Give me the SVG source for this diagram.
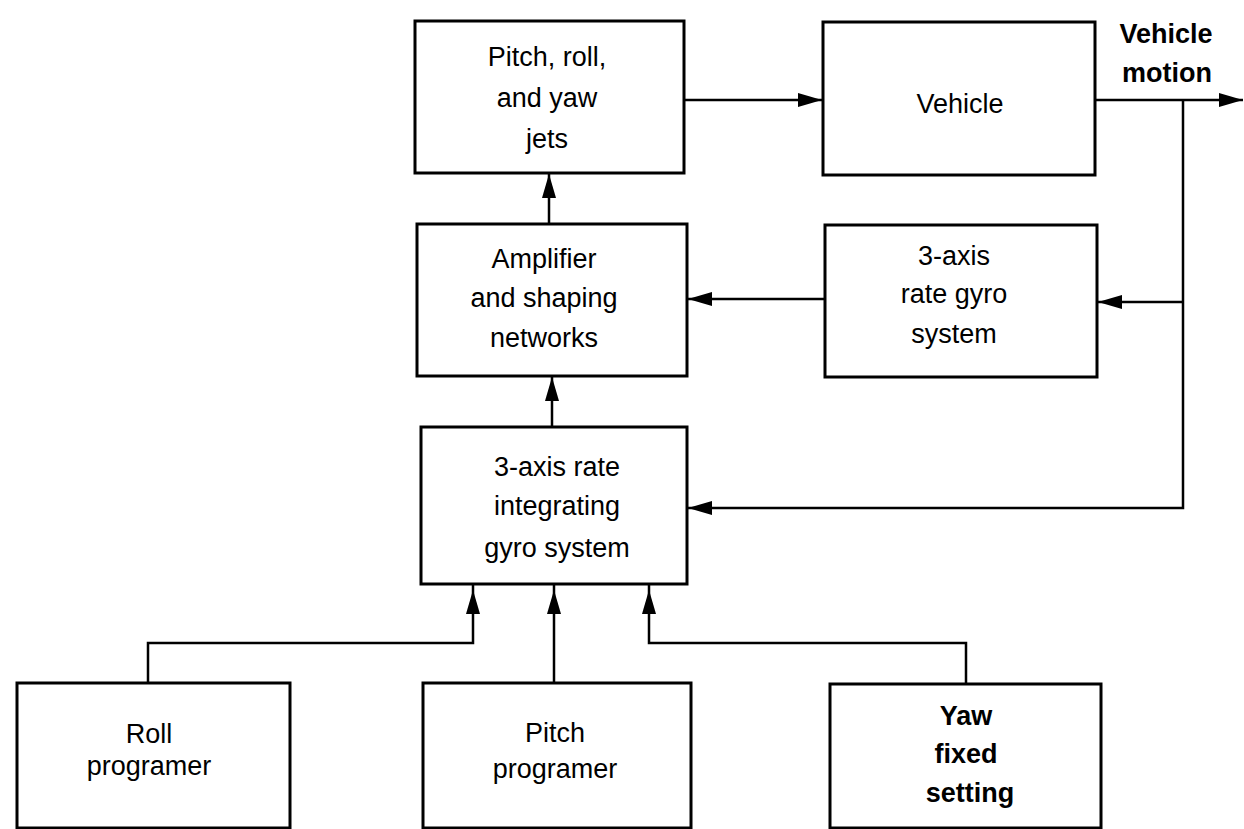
<svg xmlns="http://www.w3.org/2000/svg" width="1244" height="829" viewBox="0 0 1244 829">
<style>
.box{fill:#fff;stroke:#000;stroke-width:3}
.ln{fill:none;stroke:#000;stroke-width:2.5}
text{font-family:"Liberation Sans",Arial,sans-serif;font-size:27px;fill:#000;text-anchor:middle}
.b{font-weight:bold}
</style>
<defs>
<marker id="ah" markerUnits="userSpaceOnUse" markerWidth="26" markerHeight="16" refX="24" refY="8" orient="auto">
<path d="M0,1 L24,8 L0,15 Z" fill="#000"/>
</marker>
</defs>
<rect width="1244" height="829" fill="#fff"/>
<g id="connectors">
<path class="ln" d="M684,100 H822" marker-end="url(#ah)"/>
<path class="ln" d="M1095,100 H1243" marker-end="url(#ah)"/>
<path class="ln" d="M1183,100 V508 H688" marker-end="url(#ah)"/>
<path class="ln" d="M1183,302 H1098" marker-end="url(#ah)"/>
<path class="ln" d="M825,299 H688" marker-end="url(#ah)"/>
<path class="ln" d="M549,224 V174" marker-end="url(#ah)"/>
<path class="ln" d="M552,427 V377" marker-end="url(#ah)"/>
<path class="ln" d="M148,683 V643 H473 V590" marker-end="url(#ah)"/>
<path class="ln" d="M473,590 V584"/>
<path class="ln" d="M554,683 V590" marker-end="url(#ah)"/>
<path class="ln" d="M554,590 V584"/>
<path class="ln" d="M966,684 V643 H649 V590" marker-end="url(#ah)"/>
<path class="ln" d="M649,590 V584"/>
</g>
<g id="jets">
<rect class="box" x="415" y="21" width="269" height="152"/>
<text x="547" y="66">Pitch, roll,</text>
<text x="547" y="107">and yaw</text>
<text x="547" y="148">jets</text>
</g>
<g id="vehicle">
<rect class="box" x="823" y="22" width="272" height="153"/>
<text x="960" y="113">Vehicle</text>
</g>
<g id="vehicle-motion">
<text class="b" x="1166" y="43" font-size="25">Vehicle</text>
<text class="b" x="1167" y="82" font-size="25">motion</text>
</g>
<g id="rate-gyro">
<rect class="box" x="825" y="225" width="272" height="152"/>
<text x="954" y="265">3-axis</text>
<text x="954" y="303">rate gyro</text>
<text x="954" y="343">system</text>
</g>
<g id="amplifier">
<rect class="box" x="417" y="224" width="270" height="152"/>
<text x="544" y="268">Amplifier</text>
<text x="544" y="307">and shaping</text>
<text x="544" y="347">networks</text>
</g>
<g id="integrating-gyro">
<rect class="box" x="421" y="427" width="266" height="157"/>
<text x="557" y="476">3-axis rate</text>
<text x="557" y="515">integrating</text>
<text x="557" y="557">gyro system</text>
</g>
<g id="roll">
<rect class="box" x="17" y="683" width="273" height="145"/>
<text x="149" y="743">Roll</text>
<text x="149" y="775">programer</text>
</g>
<g id="pitch">
<rect class="box" x="423" y="683" width="268" height="145"/>
<text x="555" y="742">Pitch</text>
<text x="555" y="778">programer</text>
</g>
<g id="yaw">
<rect class="box" x="830" y="684" width="271" height="144" stroke-width="4"/>
<text class="b" x="966" y="725">Yaw</text>
<text class="b" x="966" y="763">fixed</text>
<text class="b" x="970" y="802">setting</text>
</g>
</svg>
